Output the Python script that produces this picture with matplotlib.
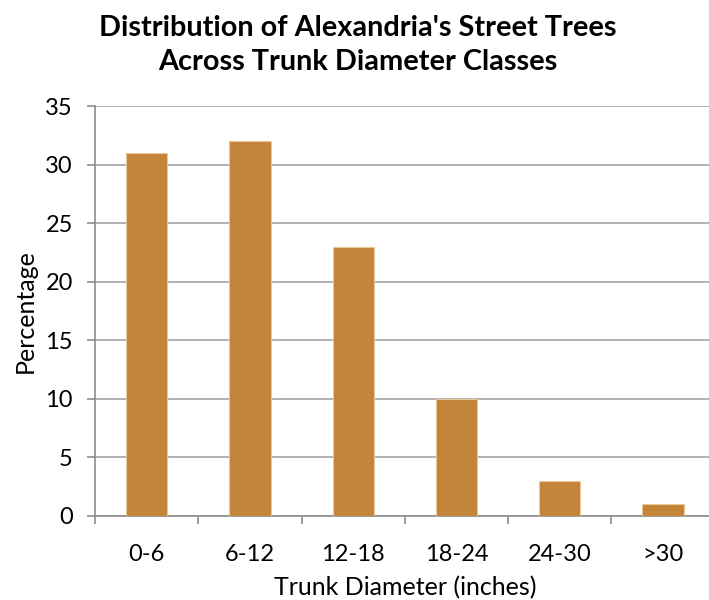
import matplotlib.pyplot as plt

# diameter classes and share of street trees (%)
classes = ["0-6", "6-12", "12-18", "18-24", "24-30", ">30"]
percent = [31, 32, 23, 10, 3, 1]
y_ticks = [0, 5, 10, 15, 20, 25, 30, 35]

plt.rcParams["font.family"] = ["Lato", "DejaVu Sans"]

fig = plt.figure(figsize=(7.09, 6), dpi=100)
ax = fig.add_axes([0.134, 0.14, 0.874, 0.6833])

x = list(range(len(classes)))
ax.bar(x, percent, width=0.4, color="#C2853A", edgecolor="#E9C896",
       linewidth=0.8, zorder=3)

ax.set_xlim(-0.5, len(classes) - 0.5)
ax.set_ylim(0, 35)
ax.set_yticks(y_ticks)
ax.yaxis.grid(True, color="#a6a6a6", linewidth=1.2, zorder=0)

# category ticks sit on the boundaries, labels in the middle
ax.set_xticks([i - 0.5 for i in range(len(classes) + 1)])
ax.set_xticklabels([])
ax.set_xticks(x, minor=True)
ax.set_xticklabels(classes, minor=True, fontsize=17)
ax.tick_params(axis="x", which="minor", length=0, pad=20)
ax.tick_params(axis="x", which="major", length=6, color="#8c8c8c", width=1.2)
ax.tick_params(axis="y", length=6, color="#8c8c8c", width=1.2, labelsize=17, pad=10)

for side in ["top", "right"]:
    ax.spines[side].set_visible(False)
ax.spines["left"].set_color("#8c8c8c")
ax.spines["left"].set_linewidth(1.2)
ax.spines["bottom"].set_color("#8c8c8c")
ax.spines["bottom"].set_linewidth(1.2)

ax.set_xlabel("Trunk Diameter (inches)", fontsize=18, labelpad=8)
ax.set_ylabel("Percentage", fontsize=18, labelpad=6)

fig.text(0.505, 0.975, "Distribution of Alexandria's Street Trees\nAcross Trunk Diameter Classes",
         ha="center", va="top", fontsize=20.8, fontweight="bold", linespacing=1.4)

plt.savefig("out.png", dpi=100)
